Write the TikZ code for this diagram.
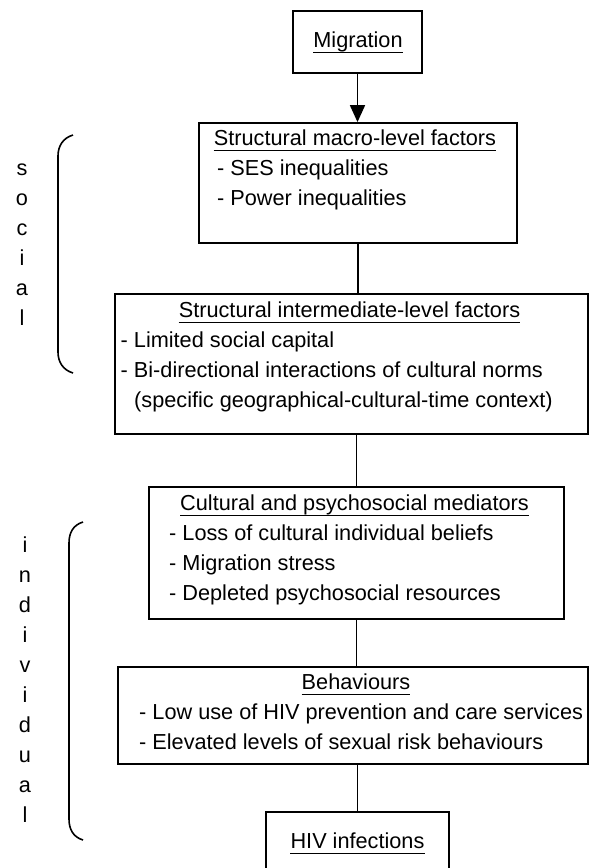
\documentclass[tikz,border=0pt]{standalone}
\usepackage{fontspec}
\setmainfont{Liberation Sans}
\usetikzlibrary{arrows.meta,calc}
\begin{document}
\begin{tikzpicture}[x=1pt,y=-1pt,
  box/.style={draw,line width=1.8pt,rectangle,inner sep=0pt},
  txt/.style={inner sep=0pt,font=\fontsize{21.7}{30}\selectfont},
  conn/.style={line width=1.8pt},
  uline/.style={line width=1.8pt},
  brace/.style={line width=1.6pt}]
\useasboundingbox (0,0) rectangle (590,868);
\clip (0,0) rectangle (590,868);
% boxes
\node[box,minimum width=129pt,minimum height=62pt] (mig) at (357.5,42) {};
\node[box,minimum width=318pt,minimum height=120pt] (macro) at (358,183) {};
\node[box,minimum width=473pt,minimum height=140pt] (inter) at (351.5,364) {};
\node[box,minimum width=415pt,minimum height=132pt] (cult) at (356.5,553) {};
\node[box,minimum width=470pt,minimum height=97pt] (beh) at (353,715.5) {};
\node[box,minimum width=183pt,minimum height=78pt] (hiv) at (357.5,851) {};
% connectors
\draw[conn,-{Triangle[width=15pt,length=17pt]}] (mig.south) -- (mig.south |- macro.north);
\draw[conn] (macro.south) -- (macro.south |- inter.north);
\draw[conn] (cult.north) -- (cult.north |- inter.south);
\draw[conn] (cult.south) -- (cult.south |- beh.north);
\draw[conn] (hiv.north) -- (hiv.north |- beh.south);
% headers
\node[txt,anchor=base] (tmig) at (358,47) {Migration};
\node[txt,anchor=base] (tmacro) at (355,145) {Structural macro-level factors};
\node[txt,anchor=base] (tinter) at (349.5,317) {Structural intermediate-level factors};
\node[txt,anchor=base] (tcult) at (354.5,510) {Cultural and psychosocial mediators};
\node[txt,anchor=base] (tbeh) at (356,689) {Behaviours};
\node[txt,anchor=base] (thiv) at (357.5,848) {HIV infections};
\foreach \n in {tmig,tmacro,tinter,tcult,tbeh,thiv}
  \draw[uline] ([yshift=-5.5pt]\n.base west) -- ([yshift=-5.5pt]\n.base east);
% items
\node[txt,anchor=base west] (m1) at (217,175) {- SES inequalities};
\node[txt,anchor=base west] (m2) at (217,205) {- Power inequalities};
\node[txt,anchor=base west] (i1) at (120.5,347) {- Limited social capital};
\node[txt,anchor=base west] (i2) at (120.5,377) {- Bi-directional interactions of cultural norms};
\node[txt,anchor=base west] (i3) at (134,407) {(specific geographical-cultural-time context)};
\node[txt,anchor=base west] (c1) at (169,540) {- Loss of cultural individual beliefs};
\node[txt,anchor=base west] (c2) at (169,570) {- Migration stress};
\node[txt,anchor=base west] (c3) at (169,600) {- Depleted psychosocial resources};
\node[txt,anchor=base west] (b1) at (139,719) {- Low use of HIV prevention and care services};
\node[txt,anchor=base west] (b2) at (139,749) {- Elevated levels of sexual risk behaviours};
% side labels
\foreach \l [count=\k] in {s,o,c,i,a,l}
  \node[txt,anchor=base] (soc\k) at (22,145+30*\k) {\l};
\foreach \l [count=\k] in {i,n,d,i,v,i,d,u,a,l}
  \node[txt,anchor=base] (ind\k) at (25,522+30*\k) {\l};
% brackets
\draw[brace] (73,135) .. controls (63,138) and (58,146) .. (58,156) -- (58,352) .. controls (58,362) and (63,370) .. (73,373);
\draw[brace] (83,522) .. controls (73,525) and (69,533) .. (69,543) -- (69,819) .. controls (69,829) and (73,837) .. (83,840);
\end{tikzpicture}
\end{document}
